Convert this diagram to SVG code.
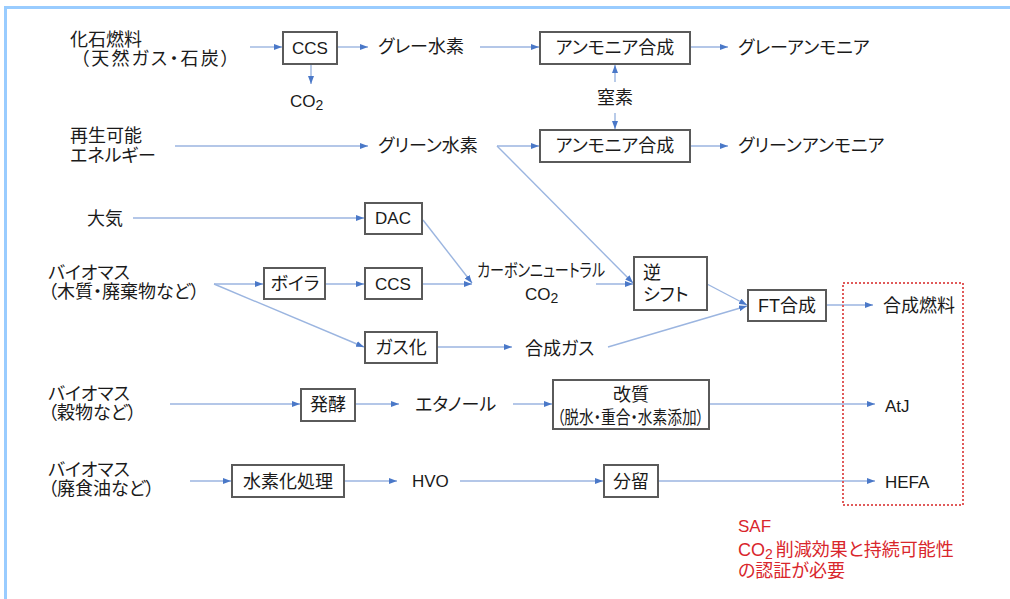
<svg xmlns="http://www.w3.org/2000/svg" width="1010" height="599" viewBox="0 0 1010 599">
<style>
text{font-family:"Liberation Sans","Noto Sans CJK JP",sans-serif;font-size:18px;fill:#1a1a1a;font-feature-settings:"palt"}
.l{font-size:17px}
.m{text-anchor:middle}
.box{fill:#fff;stroke:#5a5a5a;stroke-width:2}
.c line{stroke:#9bb5e0;stroke-width:1.4;marker-end:url(#ah)}
.red{fill:#d9262c}
</style>
<defs>
<marker id="ah" markerUnits="userSpaceOnUse" markerWidth="8" markerHeight="6" refX="8" refY="3" orient="auto">
<path d="M0,0 L8,3 L0,6 z" fill="#4a78c8"/>
</marker>
</defs>
<rect width="1010" height="599" fill="#fff"/>
<path d="M5.5,599 V7.5 H1010" fill="none" stroke="#99ccff" stroke-width="3"/>

<g class="c" id="connectors">
<line x1="250" y1="47" x2="282" y2="47"/>
<line x1="338" y1="47" x2="368" y2="47"/>
<line x1="311" y1="64" x2="311" y2="84"/>
<line x1="480" y1="47" x2="539" y2="47"/>
<line x1="690" y1="47" x2="728" y2="47"/>
<line x1="615" y1="82" x2="615" y2="65"/>
<line x1="615" y1="113" x2="615" y2="129"/>
<line x1="175" y1="146" x2="368" y2="146"/>
<line x1="497" y1="146" x2="539" y2="146"/>
<line x1="690" y1="146" x2="728" y2="146"/>
<line x1="497" y1="146" x2="633" y2="283"/>
<line x1="133" y1="218" x2="364" y2="218"/>
<line x1="423" y1="220" x2="472" y2="283"/>
<line x1="422" y1="284" x2="472" y2="284"/>
<line x1="214" y1="284" x2="263" y2="284"/>
<line x1="326" y1="284" x2="364" y2="284"/>
<line x1="214" y1="284" x2="364" y2="347"/>
<line x1="438" y1="347" x2="512" y2="347"/>
<line x1="596" y1="284" x2="633" y2="284"/>
<line x1="707" y1="284" x2="747" y2="305"/>
<line x1="608" y1="347" x2="747" y2="306"/>
<line x1="827" y1="305" x2="873" y2="305"/>
<line x1="170" y1="404" x2="300" y2="404"/>
<line x1="356" y1="404" x2="399" y2="404"/>
<line x1="513" y1="404" x2="552" y2="404"/>
<line x1="710" y1="404" x2="875" y2="404"/>
<line x1="190" y1="481" x2="231" y2="481"/>
<line x1="345" y1="481" x2="397" y2="481"/>
<line x1="460" y1="481" x2="603" y2="481"/>
<line x1="659" y1="481" x2="875" y2="481"/>
</g>

<g id="fossil"><text x="70" y="46">化石燃料</text><text x="80" y="65" textLength="150" lengthAdjust="spacing">（天然ガス・石炭）</text></g>
<g id="ccs1"><rect class="box" x="283" y="32" width="54" height="32"/><text class="m l" x="310" y="54">CCS</text></g>
<g id="co2a"><text class="l" x="290" y="107">CO<tspan font-size="14" dy="3">2</tspan></text></g>
<g id="greyh2"><text x="378" y="53">グレー水素</text></g>
<g id="amm1"><rect class="box" x="540" y="32" width="150" height="32"/><text class="m" x="615" y="54">アンモニア合成</text></g>
<g id="greynh3"><text x="738" y="54">グレーアンモニア</text></g>
<g id="n2"><text x="597" y="104">窒素</text></g>
<g id="renew"><text x="70" y="142">再生可能</text><text x="70" y="162">エネルギー</text></g>
<g id="greenh2"><text x="378" y="152">グリーン水素</text></g>
<g id="amm2"><rect class="box" x="540" y="130" width="150" height="32"/><text class="m" x="615" y="152">アンモニア合成</text></g>
<g id="greennh3"><text x="738" y="152">グリーンアンモニア</text></g>
<g id="air"><text x="87" y="225">大気</text></g>
<g id="dac"><rect class="box" x="365" y="203" width="57" height="31"/><text class="m l" x="393" y="224">DAC</text></g>
<g id="bio1"><text x="48" y="279">バイオマス</text><text x="48" y="298">（木質・廃棄物など）</text></g>
<g id="boiler"><rect class="box" x="264" y="268" width="61" height="31"/><text class="m" x="295" y="290">ボイラ</text></g>
<g id="ccs2"><rect class="box" x="365" y="268" width="57" height="31"/><text class="m l" x="393" y="290">CCS</text></g>
<g id="gasif"><rect class="box" x="365" y="332" width="72" height="31"/><text class="m" x="401" y="354">ガス化</text></g>
<g id="cnco2"><text x="477" y="277" font-size="15" textLength="128" lengthAdjust="spacingAndGlyphs">カーボンニュートラル</text><text class="l" x="525" y="300">CO<tspan font-size="14" dy="3">2</tspan></text></g>
<g id="syngas"><text x="525" y="355">合成ガス</text></g>
<g id="rws"><rect class="box" x="634" y="257" width="73" height="53"/><text x="643" y="279">逆</text><text x="643" y="301">シフト</text></g>
<g id="ft"><rect class="box" x="748" y="290" width="78" height="31"/><text class="m" x="787" y="312">FT合成</text></g>
<g id="synfuel"><text x="883" y="312">合成燃料</text></g>
<g id="bio2"><text x="48" y="400">バイオマス</text><text x="48" y="419">（穀物など）</text></g>
<g id="ferment"><rect class="box" x="301" y="389" width="54" height="32"/><text class="m" x="328" y="411">発酵</text></g>
<g id="ethanol"><text x="415" y="411">エタノール</text></g>
<g id="upgrade"><rect class="box" x="553" y="380" width="156" height="49"/><text class="m" x="631" y="401">改質</text><text x="557" y="424" font-size="15" textLength="147" lengthAdjust="spacingAndGlyphs">（脱水・重合・水素添加）</text></g>
<g id="atj"><text class="l" x="885" y="412">AtJ</text></g>
<g id="bio3"><text x="48" y="476">バイオマス</text><text x="48" y="495">（廃食油など）</text></g>
<g id="hydro"><rect class="box" x="232" y="465" width="112" height="32"/><text class="m" x="288" y="488">水素化処理</text></g>
<g id="hvo"><text class="l" x="412" y="487">HVO</text></g>
<g id="frac"><rect class="box" x="604" y="465" width="54" height="32"/><text class="m" x="631" y="488">分留</text></g>
<g id="hefa"><text class="l" x="885" y="488">HEFA</text></g>
<g id="saf">
<rect x="843" y="283" width="120" height="222" fill="none" stroke="#e05a5a" stroke-width="2" stroke-dasharray="2,2"/>
<text class="red l" x="738" y="532">SAF</text>
<text class="red" x="738" y="556">CO<tspan font-size="14" dy="3">2</tspan><tspan dx="3" dy="-3">削減効果と持続可能性</tspan></text>
<text class="red" x="738" y="577">の認証が必要</text>
</g>
</svg>
